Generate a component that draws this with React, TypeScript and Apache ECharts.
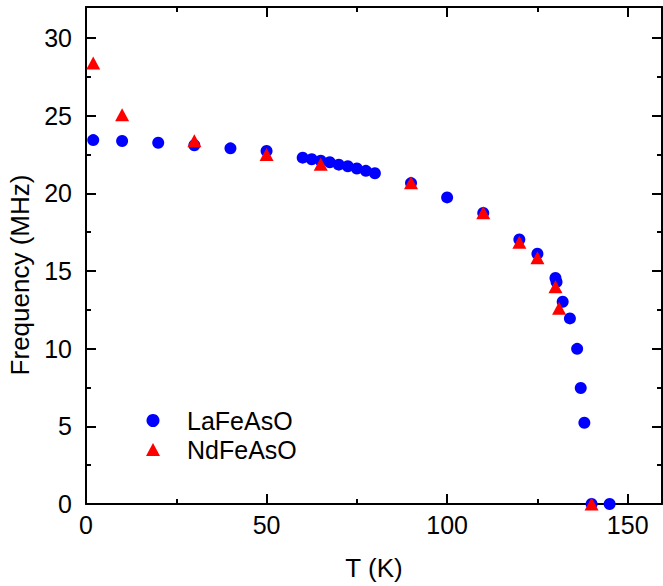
import React, { useEffect, useRef } from "react";
import * as echarts from "echarts";

const laT = [2, 10, 20, 30, 40, 50, 60, 62.5, 65, 67.5, 70, 72.5, 75, 77.5, 80, 90, 100, 110, 120, 125, 130, 130.3, 132, 134, 136, 137, 138, 140, 145];
const laF = [23.43, 23.37, 23.26, 23.1, 22.9, 22.73, 22.3, 22.2, 22.1, 22.0, 21.85, 21.75, 21.6, 21.45, 21.3, 20.66, 19.74, 18.74, 17.03, 16.11, 14.55, 14.3, 13.02, 11.95, 9.99, 7.47, 5.23, 0, 0];
const ndT = [2, 10, 30, 50, 65, 90, 110, 120, 125, 130, 131, 140];
const ndF = [28.4, 25.07, 23.39, 22.5, 21.88, 20.68, 18.76, 16.86, 15.85, 13.98, 12.6, 0];
const seriesNames = ["LaFeAsO", "NdFeAsO"];
const xTitle = "T (K)";
const yTitle = "Frequency (MHz)";

const FONT = "Liberation Sans, Arial, sans-serif";

function makeAxis(isX: boolean, position: string, showLabel: boolean, margin: number) {
  return {
    type: "value",
    gridIndex: 0,
    min: 0,
    max: isX ? 159.5 : 32,
    interval: isX ? 50 : 5,
    position,
    axisLine: { show: true, onZero: false, lineStyle: { color: "#000", width: 2 } },
    axisTick: { show: true, inside: true, length: 10, lineStyle: { color: "#000", width: 2 } },
    minorTick: { show: true, splitNumber: 2, length: 5, lineStyle: { color: "#000", width: 2 } },
    splitLine: { show: false },
    minorSplitLine: { show: false },
    axisLabel: {
      show: showLabel,
      showMaxLabel: false,
      fontSize: 25,
      color: "#000",
      fontFamily: FONT,
      margin,
    },
  };
}

export default function App() {
  const ref = useRef<HTMLDivElement>(null);
  useEffect(() => {
    if (!ref.current) return;
    document.body.style.margin = "0";
    const chart = echarts.init(ref.current, undefined, { renderer: "svg" });
    chart.setOption({
      animation: false,
      title: { text: "", left: 300, top: 20, textStyle: { fontSize: 12 } },
      grid: [{ left: 86, top: 7, right: 1, bottom: 79 }],
      xAxis: [
        {
          ...makeAxis(true, "bottom", true, 8),
          name: xTitle,
          nameLocation: "middle",
          nameGap: 51,
          nameTextStyle: { fontSize: 26, color: "#000", fontFamily: FONT },
        },
        makeAxis(true, "top", false, 8),
      ],
      yAxis: [
        makeAxis(false, "left", true, 14),
        makeAxis(false, "right", false, 14),
      ],
      legend: {
        orient: "vertical",
        left: 146,
        top: 408,
        padding: 0,
        itemWidth: 14,
        itemHeight: 13,
        itemGap: 4,
        textStyle: { fontSize: 25, color: "#000", fontFamily: FONT, padding: [0, 0, 0, 22] },
        data: [
          { name: seriesNames[0], icon: "circle" },
          { name: seriesNames[1], icon: "triangle" },
        ],
      },
      graphic: [
        {
          type: "text",
          x: 20,
          y: 275,
          rotation: Math.PI / 2,
          style: {
            text: yTitle,
            fontSize: 26,
            fontFamily: FONT,
            fill: "#000",
            align: "center",
            verticalAlign: "middle",
          },
        },
      ],
      series: [
        {
          name: seriesNames[0],
          type: "scatter",
          xAxisIndex: 0,
          yAxisIndex: 0,
          symbol: "circle",
          symbolSize: 12,
          itemStyle: { color: "#0000ff", opacity: 1 },
          data: laT.map((t, i) => [t, laF[i]]),
        },
        {
          name: seriesNames[1],
          type: "scatter",
          xAxisIndex: 0,
          yAxisIndex: 0,
          symbol: "triangle",
          symbolSize: [14, 13],
          itemStyle: { color: "#ff0000", opacity: 1 },
          data: ndT.map((t, i) => [t, ndF[i]]),
        },
      ],
    });
    return () => chart.dispose();
  }, []);
  return <div ref={ref} style={{ width: 663, height: 586 }} />;
}
